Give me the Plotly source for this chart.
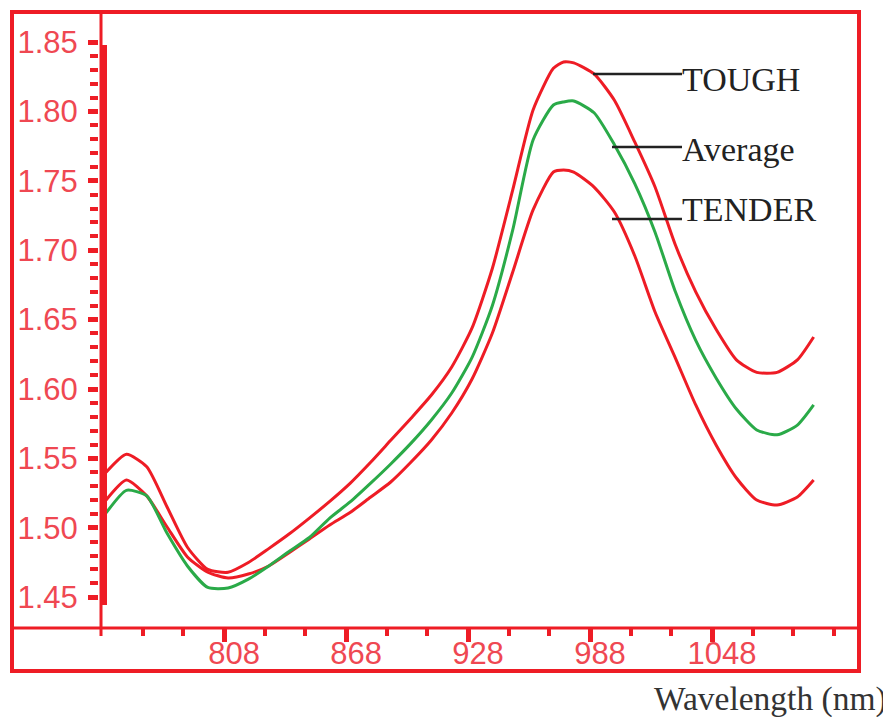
import plotly.graph_objects as go

# ---------------- data ----------------
wavelength = [750, 760, 770, 780, 790, 800, 810, 820, 830, 840, 850, 860, 870, 880, 890,
              900, 910, 920, 930, 940, 950, 960, 970, 975, 980, 990, 1000, 1010, 1020,
              1030, 1040, 1050, 1060, 1070, 1080, 1090, 1098]

tough = [1.540, 1.553, 1.544, 1.515, 1.486, 1.470, 1.468, 1.475, 1.485, 1.4955, 1.507,
         1.519, 1.532, 1.547, 1.563, 1.579, 1.5957, 1.6159, 1.644, 1.687, 1.7434, 1.801,
         1.831, 1.8356, 1.835, 1.827, 1.808, 1.778, 1.7455, 1.7037, 1.670, 1.643, 1.621,
         1.612, 1.612, 1.621, 1.6375]

average = [1.5107, 1.527, 1.523, 1.496, 1.4725, 1.457, 1.4566, 1.463, 1.4725, 1.483,
           1.493, 1.507, 1.5186, 1.532, 1.546, 1.561, 1.5777, 1.5971, 1.6228, 1.6602,
           1.7146, 1.7794, 1.8046, 1.8068, 1.8075, 1.799, 1.776, 1.748, 1.713, 1.670,
           1.635, 1.608, 1.5856, 1.5705, 1.567, 1.574, 1.5885]

tender = [1.520, 1.5344, 1.523, 1.5006, 1.479, 1.468, 1.4638, 1.4667, 1.4725, 1.482,
          1.492, 1.502, 1.511, 1.522, 1.533, 1.5474, 1.5633, 1.5827, 1.6072, 1.6403, 1.6843,
          1.729, 1.7563, 1.7578, 1.7563, 1.7455, 1.7275, 1.696, 1.6555, 1.6223, 1.5885,
          1.5597, 1.5359, 1.520, 1.5164, 1.5222, 1.5344]

x_major = [808, 868, 928, 988, 1048]
x_minor = [768, 788, 828, 848, 888, 908, 948, 968, 1008, 1028, 1068, 1088, 1108]
y_major = [1.45, 1.50, 1.55, 1.60, 1.65, 1.70, 1.75, 1.80, 1.85]
y_major_text = ["1.45", "1.50", "1.55", "1.60", "1.65", "1.70", "1.75", "1.80", "1.85"]
y_minor = [round(1.45 + 0.01 * i, 2) for i in range(41) if i % 5 != 0]

series_labels = ["TOUGH", "Average", "TENDER"]
x_title = "Wavelength (nm)"

RED = "#ee1c25"
LABEL_RED = "#ef4852"
GREEN = "#2aaa48"

OFF = 8                      # page body margin of the html page
PAGE_W, PAGE_H = 891, 717
W, H = PAGE_W - OFF, PAGE_H - OFF
L, R, T, B = 98, 859, 12, 628    # plot area in page pixels
pw, ph = R - L, B - T


def px(xp):
    return (xp - L) / pw


def py(yp):
    return (B - yp) / ph


fig = go.Figure()
fig.add_trace(go.Scatter(x=wavelength, y=tough, mode="lines", name=series_labels[0],
                         line=dict(color=RED, width=3, shape="spline", smoothing=0.6)))
fig.add_trace(go.Scatter(x=wavelength, y=tender, mode="lines", name=series_labels[2],
                         line=dict(color=RED, width=3, shape="spline", smoothing=0.6)))
fig.add_trace(go.Scatter(x=wavelength, y=average, mode="lines", name=series_labels[1],
                         line=dict(color=GREEN, width=3, shape="spline", smoothing=0.6)))

shapes = []
# outer frame
shapes.append(dict(type="rect", xref="paper", yref="paper", x0=px(12), x1=px(859),
                   y0=py(671), y1=py(12), line=dict(color=RED, width=4)))
# x axis line across the frame
shapes.append(dict(type="line", xref="paper", yref="paper", x0=px(12), x1=px(859),
                   y0=py(628), y1=py(628), line=dict(color=RED, width=3)))
# vertical axis line
shapes.append(dict(type="line", xref="paper", yref="paper", x0=px(101), x1=px(101),
                   y0=py(12), y1=py(636), line=dict(color=RED, width=3)))
# thick bar along the axis
shapes.append(dict(type="rect", xref="paper", yref="y", x0=px(102), x1=px(107),
                   y0=1.4444, y1=1.8478, fillcolor=RED, line=dict(width=0)))
# leader lines
for x0, yv in [(593, 74), (612, 147), (612, 219)]:
    shapes.append(dict(type="line", xref="paper", yref="paper", x0=px(x0), x1=px(682),
                       y0=py(yv), y1=py(yv), line=dict(color="#222222", width=2.5)))

annotations = []
for txt, yv in zip(series_labels, [80, 149, 210]):
    annotations.append(dict(text=txt, xref="paper", yref="paper", x=px(680), y=py(yv),
                            xanchor="left", yanchor="middle", showarrow=False,
                            font=dict(family="Liberation Serif, Times New Roman, serif",
                                      size=34, color="#222222")))
annotations.append(dict(text=x_title, xref="paper", yref="paper", x=px(889), y=py(699),
                        xanchor="right", yanchor="middle", showarrow=False,
                        font=dict(family="Liberation Serif, Times New Roman, serif",
                                  size=33.5, color="#333333")))

fig.update_layout(
    width=W, height=H,
    margin=dict(l=L - OFF, r=PAGE_W - R, t=T - OFF, b=PAGE_H - B, pad=0),
    paper_bgcolor="white", plot_bgcolor="white",
    showlegend=False,
    shapes=shapes, annotations=annotations,
    xaxis=dict(
        domain=[px(101), 1], range=[747.5, 1120.3],
        showgrid=False, zeroline=False, showline=False,
        tickmode="array", tickvals=x_major, ticktext=[str(v) for v in x_major],
        ticks="outside", ticklen=13, tickwidth=5, tickcolor=RED,
        ticklabelshift=10, ticklabelstandoff=-15,
        tickfont=dict(family="Liberation Sans, Arial, sans-serif", size=31, color=LABEL_RED),
        minor=dict(tickmode="array", tickvals=x_minor, ticks="outside", ticklen=7,
                   tickwidth=4, tickcolor=RED, showgrid=False),
    ),
    yaxis=dict(
        anchor="free", position=0,
        range=[1.85 - 586 / 1388, 1.85 + 30 / 1388],
        showgrid=False, zeroline=False, showline=False,
        tickmode="array", tickvals=y_major, ticktext=y_major_text,
        ticks="outside", ticklen=10, tickwidth=5, tickcolor=RED,
        ticklabelstandoff=4,
        tickfont=dict(family="Liberation Sans, Arial, sans-serif", size=31, color=LABEL_RED),
        minor=dict(tickmode="array", tickvals=y_minor, ticks="outside", ticklen=8,
                   tickwidth=3.5, tickcolor=RED, showgrid=False),
    ),
)

fig.write_html("out.html")
